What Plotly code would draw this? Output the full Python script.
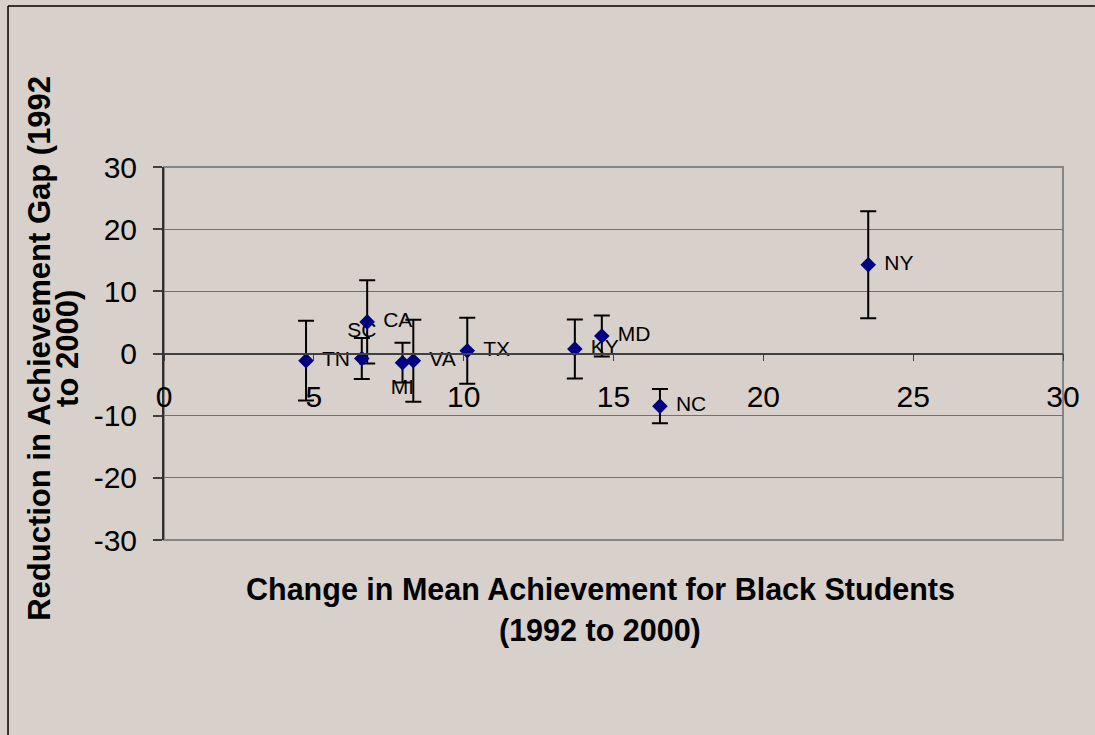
import plotly.graph_objects as go

# State-level results: change in mean achievement vs. reduction in the gap
states = ["TN", "SC", "CA", "MI", "VA", "TX", "KY", "MD", "NC", "NY"]
mean_change = [4.74, 6.60, 6.78, 7.96, 8.32, 10.12, 13.71, 14.61, 16.55, 23.50]
gap_reduction = [-1.15, -0.80, 5.08, -1.48, -1.16, 0.45, 0.73, 2.82, -8.47, 14.27]
gap_error = [6.4, 3.3, 6.7, 3.2, 6.6, 5.3, 4.75, 3.3, 2.75, 8.6]
label_pos = ["middle right", "top center", "middle right", "bottom center",
             "middle right", "middle right", "middle right", "middle right",
             "middle right", "middle right"]

x_ticks = [0, 5, 10, 15, 20, 25, 30]
y_ticks = [-30, -20, -10, 0, 10, 20, 30]

x_title = ["Change in Mean Achievement for Black Students", "(1992 to 2000)"]
y_title = ["Reduction in Achievement Gap (1992", "to 2000)"]

BG = "#D8D0CA"
FONT = "Liberation Sans, Arial, sans-serif"

fig = go.Figure()

# state labels sit underneath the error bars; the transparent markers
# only push each label away from its point
fig.add_trace(go.Scatter(
    x=mean_change, y=gap_reduction, mode="markers+text", text=states,
    textposition=label_pos,
    marker=dict(size=24, color="rgba(0,0,0,0)", line=dict(width=0)),
    textfont=dict(family=FONT, size=21, color="#000000"),
    hoverinfo="skip", showlegend=False,
))

fig.add_trace(go.Scatter(
    x=mean_change, y=gap_reduction, mode="markers",
    marker=dict(symbol="diamond", size=12, color="#000080",
                line=dict(width=0)),
    error_y=dict(type="data", array=gap_error, visible=True,
                 color="#000000", thickness=2, width=8),
    showlegend=False,
))

fig.update_layout(
    width=1095, height=735,
    margin=dict(l=164, r=32, t=167, b=195, autoexpand=False),
    paper_bgcolor=BG, plot_bgcolor=BG,
    font=dict(family=FONT, color="#000000"),
    showlegend=False,
)

fig.update_xaxes(
    range=[0, 30], tickvals=x_ticks, ticktext=[str(v) for v in x_ticks],
    anchor="free", position=0.5,
    showgrid=False, zeroline=False,
    showline=True, linecolor="#404040", linewidth=1.5,
    ticks="outside", ticklen=7, tickwidth=1, tickcolor="#404040",
    ticklabelstandoff=10,
    tickfont=dict(family=FONT, size=30, color="#000000"),
)

fig.update_yaxes(
    range=[-30, 30], tickvals=y_ticks, ticktext=[str(v) for v in y_ticks],
    showgrid=True, gridcolor="#707070", gridwidth=1,
    zeroline=False,
    showline=True, linecolor="#303030", linewidth=2,
    ticks="outside", ticklen=9, tickwidth=1.5, tickcolor="#404040",
    ticklabelstandoff=10,
    tickfont=dict(family=FONT, size=30, color="#000000"),
)

# plot-area border
fig.add_shape(type="rect", xref="paper", yref="paper", x0=0, y0=0, x1=1, y1=1,
              line=dict(color="#868686", width=2), layer="below")
# outer chart frame: left and top edges fall inside the page
fig.add_shape(type="line", xref="paper", yref="paper",
              x0=-0.1735, y0=1.4316, x1=-0.1735, y1=-0.6,
              line=dict(color="#000000", width=1.5), layer="below")
fig.add_shape(type="line", xref="paper", yref="paper",
              x0=-0.1735, y0=1.4316, x1=1.0355, y1=1.4316,
              line=dict(color="#000000", width=1.5), layer="below")

# axis titles, one annotation per line
for text, yy in zip(x_title, [-0.1314, -0.2413]):
    fig.add_annotation(text=f"<b>{text}</b>", xref="paper", yref="paper",
                       x=0.485, y=yy, xanchor="center", yanchor="middle",
                       showarrow=False,
                       font=dict(family=FONT, size=30.5, color="#000000"))
for text, xx in zip(y_title, [-0.1380, -0.1068]):
    fig.add_annotation(text=f"<b>{text}</b>", xref="paper", yref="paper",
                       x=xx, y=0.515, xanchor="center", yanchor="middle",
                       showarrow=False, textangle=-90,
                       font=dict(family=FONT, size=31, color="#000000"))

fig.write_html("out.html")
